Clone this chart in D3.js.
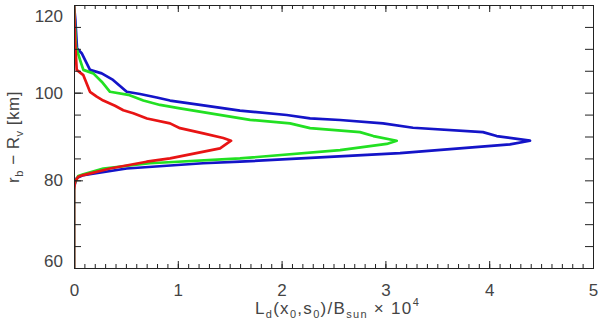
<!DOCTYPE html>
<html>
<head>
<meta charset="utf-8">
<script src="https://cdn.jsdelivr.net/npm/d3@7"></script>
<style>
  body { margin: 0; background: #fff; }
  text { font-family: "Liberation Sans", Arial, sans-serif; fill: #444; }
</style>
</head>
<body>
<svg id="chart" width="600" height="323"></svg>
<script>
// values: [L_d x 1e4, r_b - R_v (km)]
var blueLine = [
  [0, 120], [0.013, 116.6], [0.029, 110.1], [0.074, 109.0], [0.106, 107.5], [0.154, 105.2],
  [0.267, 104.4], [0.376, 102.9], [0.508, 100.2], [0.636, 99.7], [0.797, 98.9], [0.925, 98.2],
  [1.214, 97.2], [1.599, 95.9], [2.049, 94.9], [2.274, 94.15], [2.563, 93.76], [2.977, 93.0],
  [3.266, 92.0], [3.94, 91.0], [4.072, 90.1], [4.393, 89.04], [4.2, 88.2], [3.141, 86.2],
  [1.599, 84.25], [1.243, 83.9], [0.508, 82.7], [0.09, 81.2], [0.026, 80.5], [0, 78.5], [0, 60]
];
var greenLine = [
  [0, 120], [0.008, 116], [0.019, 110.5], [0.058, 107.5], [0.09, 105.2], [0.186, 104.4],
  [0.267, 102.5], [0.347, 100.2], [0.523, 99.5], [0.668, 98.2], [0.829, 97.2], [1.021, 96.4],
  [1.696, 93.8], [2.081, 93.0], [2.274, 91.9], [2.755, 91.0], [2.884, 90.1], [3.109, 89.04],
  [3.013, 88.3], [2.563, 86.9], [1.599, 85.0], [0.732, 83.9], [0.282, 82.7], [0.09, 81.4],
  [0.041, 81.0], [0, 79], [0, 60]
];
var redLine = [
  [0, 120], [0.01, 112], [0.026, 105.2], [0.09, 104.0], [0.154, 100.2], [0.219, 99.1],
  [0.282, 98.2], [0.395, 97.0], [0.475, 96.0], [0.571, 95.3], [0.703, 94.1], [0.925, 93.0],
  [1.021, 91.9], [1.246, 90.7], [1.438, 89.65], [1.513, 89.04], [1.407, 87.3], [0.925, 85.0],
  [0.7, 84.25], [0.347, 82.7], [0.09, 81.2], [0.041, 80.8], [0.01, 79.7], [0, 77.8], [0, 60]
];
var seriesColors = ['#1414c8', '#22e022', '#e81414'];
var xTicks = [0, 1, 2, 3, 4, 5];
var yTicks = [60, 80, 100, 120];

var svg = d3.select('#chart');
var margin = { top: 5, right: 7, bottom: 55, left: 74 };
var width = 600 - margin.left - margin.right,
    height = 323 - margin.top - margin.bottom;

var xScale = d3.scaleLinear().domain([0, 5]).range([0, width]);
var yScale = d3.scaleLinear().domain([60, 120]).range([height, 0]);

var g = svg.append('g')
    .attr('transform', `translate(${margin.left},${margin.top})`);

g.append('clipPath').attr('id', 'clip')
  .append('rect').attr('width', width).attr('height', height);

// data lines
var line = d3.line()
    .x(d => xScale(d[0]))
    .y(d => yScale(d[1]));

[blueLine, greenLine, redLine].forEach((s, i) => {
  g.append('path')
    .datum(s)
    .attr('clip-path', 'url(#clip)')
    .attr('fill', 'none')
    .attr('stroke', seriesColors[i])
    .attr('stroke-width', 2.7)
    .attr('stroke-linejoin', 'round')
    .attr('d', line);
});

// axes, ticks inward on all four sides (IDL style)
var xMinor = d3.range(0, 5.001, 0.1);
var yMinor = d3.range(60, 120.001, 5);

function styleAxis(sel) {
  sel.select('.domain').attr('stroke', '#222');
  sel.selectAll('.tick line').attr('stroke', '#222');
  sel.selectAll('.tick text').style('font-size', '17px').attr('fill', '#444');
}

g.append('g').attr('transform', `translate(0,${height})`)
  .call(d3.axisBottom(xScale).tickValues(xMinor).tickSize(-4).tickFormat(''))
  .call(styleAxis);
g.append('g').attr('transform', `translate(0,${height})`)
  .call(d3.axisBottom(xScale).tickValues(xTicks).tickSize(-7).tickPadding(16).tickFormat(d3.format('d')))
  .call(styleAxis);
g.append('g')
  .call(d3.axisTop(xScale).tickValues(xMinor).tickSize(-4).tickFormat(''))
  .call(styleAxis);
g.append('g')
  .call(d3.axisTop(xScale).tickValues(xTicks).tickSize(-7).tickFormat(''))
  .call(styleAxis);

g.append('g')
  .call(d3.axisLeft(yScale).tickValues(yMinor).tickSize(-7).tickFormat(''))
  .call(styleAxis);
var yAx = g.append('g')
  .call(d3.axisLeft(yScale).tickValues(yTicks).tickSize(-9).tickPadding(11).tickFormat(d3.format('d')))
  .call(styleAxis);
// end labels are kept inside the frame, as IDL does
yAx.selectAll('.tick text')
  .attr('dy', d => d === 120 ? '0.95em' : d === 60 ? '-0.1em' : '0.32em');
g.append('g').attr('transform', `translate(${width},0)`)
  .call(d3.axisRight(yScale).tickValues(yMinor).tickSize(-8).tickFormat(''))
  .call(styleAxis);

// axis titles
var xt = svg.append('text')
    .attr('x', margin.left + width / 2 + 4)
    .attr('y', 314)
    .attr('text-anchor', 'middle')
    .style('font-size', '17px')
    .style('letter-spacing', '1.3px');
xt.append('tspan').text('L');
xt.append('tspan').attr('dy', 4).style('font-size', '11px').text('d');
xt.append('tspan').attr('dy', -4).text('(x');
xt.append('tspan').attr('dy', 4).style('font-size', '11px').text('0');
xt.append('tspan').attr('dy', -4).text(',s');
xt.append('tspan').attr('dy', 4).style('font-size', '11px').text('0');
xt.append('tspan').attr('dy', -4).text(')/B');
xt.append('tspan').attr('dy', 4).style('font-size', '11px').text('sun');
xt.append('tspan').attr('dy', -4).text('  \u00d7 10');
xt.append('tspan').attr('dy', -8).style('font-size', '11px').text('4');

var yt = svg.append('text')
    .attr('transform', 'translate(19,137) rotate(-90)')
    .attr('text-anchor', 'middle')
    .style('font-size', '17px')
    .style('letter-spacing', '0.5px');
yt.append('tspan').text('r');
yt.append('tspan').attr('dy', 4).style('font-size', '11px').text('b');
yt.append('tspan').attr('dy', -4).text(' \u2212 R');
yt.append('tspan').attr('dy', 4).style('font-size', '11px').text('v');
yt.append('tspan').attr('dy', -4).text(' [km]');
</script>
</body>
</html>
